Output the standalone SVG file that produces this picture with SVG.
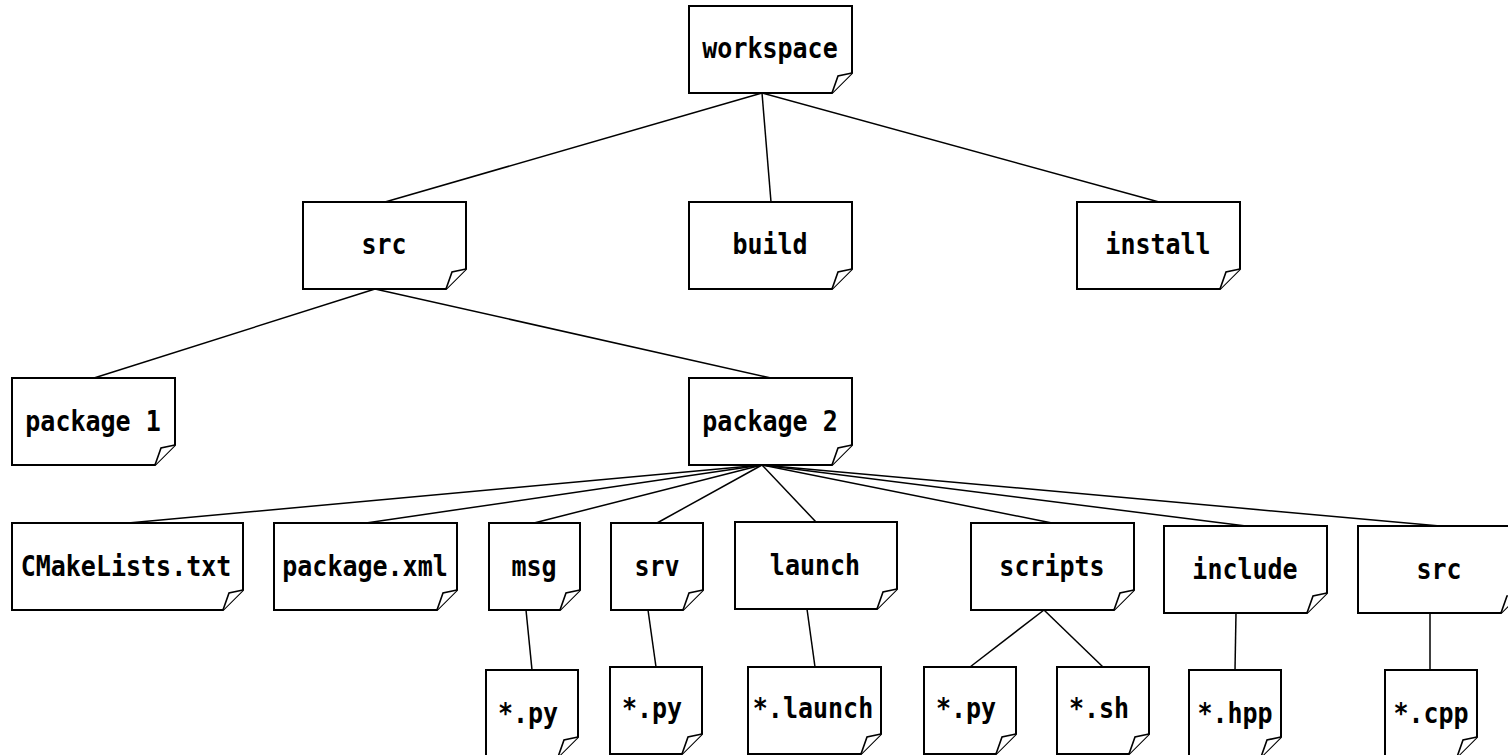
<svg xmlns="http://www.w3.org/2000/svg" width="1508" height="755" viewBox="0 0 1508 755">
<style>
.b{fill:#fff;stroke:#000;stroke-width:2;stroke-linejoin:miter}
.f{fill:#fff;stroke:#000;stroke-width:1.6}
.t{font-family:"DejaVu Sans Mono",monospace;font-weight:bold;font-size:25px;text-anchor:middle;fill:#000}
#edges line{stroke:#000;stroke-width:1.5}
</style>
<rect width="1508" height="755" fill="#fff"/>
<g id="edges">
<line x1="762" y1="93" x2="385" y2="202"/>
<line x1="762" y1="93" x2="771" y2="202"/>
<line x1="762" y1="93" x2="1159" y2="202"/>
<line x1="375" y1="289" x2="94" y2="378"/>
<line x1="375" y1="289" x2="771" y2="378"/>
<line x1="762" y1="465" x2="128" y2="523"/>
<line x1="762" y1="465" x2="366" y2="523"/>
<line x1="762" y1="465" x2="534" y2="523"/>
<line x1="762" y1="465" x2="657" y2="523"/>
<line x1="762" y1="465" x2="816" y2="522"/>
<line x1="762" y1="465" x2="1052" y2="523"/>
<line x1="762" y1="465" x2="1246" y2="526"/>
<line x1="762" y1="465" x2="1440" y2="526"/>
<line x1="526" y1="610" x2="532" y2="670"/>
<line x1="648" y1="610" x2="656" y2="667"/>
<line x1="807" y1="609" x2="815" y2="667"/>
<line x1="1044" y1="610" x2="970" y2="667"/>
<line x1="1044" y1="610" x2="1103" y2="667"/>
<line x1="1236" y1="613" x2="1235" y2="670"/>
<line x1="1430" y1="613" x2="1430" y2="670"/>
</g>
<g id="workspace"><path class="b" d="M689 6H852V73L832 93H689Z"/><path class="f" d="M832 93L838 76L852 73"/><text class="t" transform="translate(770 58) scale(1 1.12)">workspace</text></g>
<g id="src"><path class="b" d="M303 202H466V269L446 289H303Z"/><path class="f" d="M446 289L452 272L466 269"/><text class="t" transform="translate(384 254) scale(1 1.12)">src</text></g>
<g id="build"><path class="b" d="M689 202H852V269L832 289H689Z"/><path class="f" d="M832 289L838 272L852 269"/><text class="t" transform="translate(770 254) scale(1 1.12)">build</text></g>
<g id="install"><path class="b" d="M1077 202H1240V269L1220 289H1077Z"/><path class="f" d="M1220 289L1226 272L1240 269"/><text class="t" transform="translate(1158 254) scale(1 1.12)">install</text></g>
<g id="package1"><path class="b" d="M12 378H175V445L155 465H12Z"/><path class="f" d="M155 465L161 448L175 445"/><text class="t" transform="translate(93 430.5) scale(1 1.12)">package 1</text></g>
<g id="package2"><path class="b" d="M689 378H852V445L832 465H689Z"/><path class="f" d="M832 465L838 448L852 445"/><text class="t" transform="translate(770 430.5) scale(1 1.12)">package 2</text></g>
<g id="cmakelists"><path class="b" d="M12 523H243V590L223 610H12Z"/><path class="f" d="M223 610L229 593L243 590"/><text class="t" transform="translate(126 575.5) scale(1 1.12)">CMakeLists.txt</text></g>
<g id="packagexml"><path class="b" d="M274 523H457V590L437 610H274Z"/><path class="f" d="M437 610L443 593L457 590"/><text class="t" transform="translate(365 575.5) scale(1 1.12)">package.xml</text></g>
<g id="msg"><path class="b" d="M489 523H580V590L560 610H489Z"/><path class="f" d="M560 610L566 593L580 590"/><text class="t" transform="translate(534 575.5) scale(1 1.12)">msg</text></g>
<g id="srv"><path class="b" d="M611 523H703V590L683 610H611Z"/><path class="f" d="M683 610L689 593L703 590"/><text class="t" transform="translate(657 575.5) scale(1 1.12)">srv</text></g>
<g id="launch"><path class="b" d="M735 522H897V589L877 609H735Z"/><path class="f" d="M877 609L883 592L897 589"/><text class="t" transform="translate(815 574.5) scale(1 1.12)">launch</text></g>
<g id="scripts"><path class="b" d="M971 523H1134V590L1114 610H971Z"/><path class="f" d="M1114 610L1120 593L1134 590"/><text class="t" transform="translate(1052 575.5) scale(1 1.12)">scripts</text></g>
<g id="include"><path class="b" d="M1164 526H1327V593L1307 613H1164Z"/><path class="f" d="M1307 613L1313 596L1327 593"/><text class="t" transform="translate(1245 578.5) scale(1 1.12)">include</text></g>
<g id="src2"><path class="b" d="M1358 526H1521V593L1501 613H1358Z"/><path class="f" d="M1501 613L1507 596L1521 593"/><text class="t" transform="translate(1439 578.5) scale(1 1.12)">src</text></g>
<g id="msg-py"><path class="b" d="M486 670H578V737L558 757H486Z"/><path class="f" d="M558 757L564 740L578 737"/><text class="t" transform="translate(528 722.5) scale(1 1.12)">*.py</text></g>
<g id="srv-py"><path class="b" d="M610 667H702V734L682 754H610Z"/><path class="f" d="M682 754L688 737L702 734"/><text class="t" transform="translate(652 717.5) scale(1 1.12)">*.py</text></g>
<g id="launch-file"><path class="b" d="M748 667H881V734L861 754H748Z"/><path class="f" d="M861 754L867 737L881 734"/><text class="t" transform="translate(813 717.5) scale(1 1.12)">*.launch</text></g>
<g id="scripts-py"><path class="b" d="M924 667H1016V734L996 754H924Z"/><path class="f" d="M996 754L1002 737L1016 734"/><text class="t" transform="translate(966 717.5) scale(1 1.12)">*.py</text></g>
<g id="scripts-sh"><path class="b" d="M1057 667H1149V734L1129 754H1057Z"/><path class="f" d="M1129 754L1135 737L1149 734"/><text class="t" transform="translate(1099 717.5) scale(1 1.12)">*.sh</text></g>
<g id="hpp"><path class="b" d="M1189 670H1281V737L1261 757H1189Z"/><path class="f" d="M1261 757L1267 740L1281 737"/><text class="t" transform="translate(1235 722.5) scale(1 1.12)">*.hpp</text></g>
<g id="cpp"><path class="b" d="M1385 670H1477V737L1457 757H1385Z"/><path class="f" d="M1457 757L1463 740L1477 737"/><text class="t" transform="translate(1431 722.5) scale(1 1.12)">*.cpp</text></g>
</svg>
